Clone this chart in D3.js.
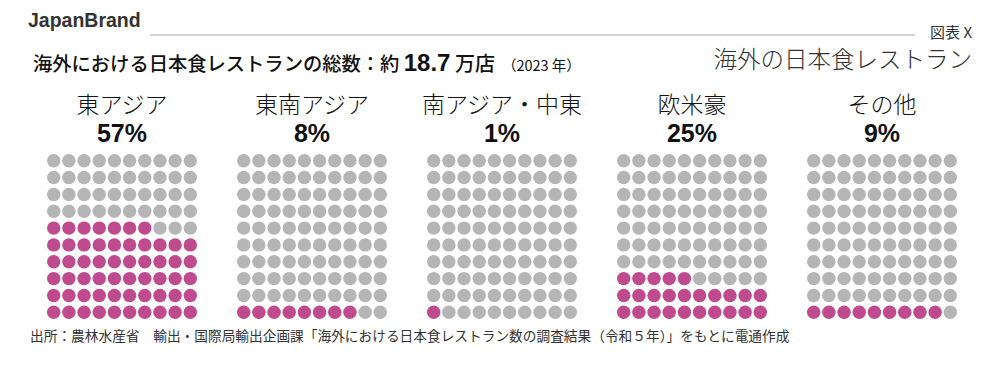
<!DOCTYPE html>
<html>
<head>
  <meta charset="utf-8">
  <style>
    body { margin: 0; background: #fff; }
    svg { display: block; }
    .jp { font-family: "Noto Sans CJK JP", "Noto Sans", sans-serif; }
    .num { font-family: "Liberation Sans", Arial, sans-serif; }
  </style>
  <script src="https://d3js.org/d3.v7.min.js"></script>
</head>
<body>
  <div id="chart"></div>
  <script>
    // 地域と割合（%）
    var regions = ["東アジア", "東南アジア", "南アジア・中東", "欧米豪", "その他"];
    var shares = [57, 8, 1, 25, 9];
    var pctLabels = ["57%", "8%", "1%", "25%", "9%"];

    var width = 1000, height = 376;
    var pink = "#c04a8e", grey = "#b5b5b5";

    var svg = d3.select("#chart").append("svg")
      .attr("width", width)
      .attr("height", height);

    // header
    svg.append("text")
      .attr("class", "num")
      .attr("x", 28).attr("y", 27)
      .attr("font-size", 19.5).attr("font-weight", "bold")
      .attr("fill", "#333")
      .text("JapanBrand");

    svg.append("line")
      .attr("x1", 150).attr("x2", 915)
      .attr("y1", 35).attr("y2", 35)
      .attr("stroke", "#c4c4c4").attr("stroke-width", 1.5);

    svg.append("text")
      .attr("class", "jp")
      .attr("x", 972).attr("y", 38)
      .attr("text-anchor", "end")
      .attr("font-size", 15).attr("fill", "#333")
      .text("図表 X");

    svg.append("text")
      .attr("class", "jp")
      .attr("x", 972).attr("y", 68)
      .attr("text-anchor", "end")
      .attr("font-size", 23.5).attr("font-weight", 300).attr("fill", "#333")
      .text("海外の日本食レストラン");

    var sub = svg.append("text")
      .attr("class", "jp")
      .attr("x", 33).attr("y", 71)
      .attr("fill", "#111");
    sub.append("tspan").attr("font-size", 19.3).attr("font-weight", 500)
      .text("海外における日本食レストランの総数：約 ");
    sub.append("tspan").attr("class", "num").attr("font-size", 24).attr("font-weight", "bold")
      .text("18.7");
    sub.append("tspan").attr("font-size", 20).attr("font-weight", 500)
      .text(" 万店");
    sub.append("tspan").attr("font-size", 14.5).attr("dx", 7)
      .text("（2023 年）");

    // groups
    var xGroup = d3.scaleBand()
      .domain(regions)
      .range([47, 47 + 190 * regions.length])
      .paddingInner(0);

    var r = 6.7;
    var col = d3.scaleLinear().domain([0, 9]).range([r, 150 - r]);
    var row = d3.scaleLinear().domain([0, 9]).range([319 - r, 154 + r]);

    var cells = d3.range(100);

    var groups = svg.selectAll(".group")
      .data(regions)
      .enter().append("g")
      .attr("class", "group")
      .attr("transform", function (d) { return "translate(" + xGroup(d) + ",0)"; });

    groups.append("text")
      .attr("class", "jp")
      .attr("x", 75).attr("y", 113)
      .attr("text-anchor", "middle")
      .attr("font-size", 23).attr("font-weight", 300).attr("fill", "#111")
      .text(function (d) { return d; });

    groups.append("text")
      .attr("class", "num")
      .attr("x", 75).attr("y", 142)
      .attr("text-anchor", "middle")
      .attr("font-size", 25).attr("font-weight", "bold").attr("fill", "#111")
      .text(function (d, i) { return pctLabels[i]; });

    groups.each(function (d, i) {
      d3.select(this).selectAll("circle")
        .data(cells)
        .enter().append("circle")
        .attr("cx", function (k) { return col(k % 10); })
        .attr("cy", function (k) { return row(Math.floor(k / 10)); })
        .attr("r", r)
        .attr("fill", function (k) { return k < shares[i] ? pink : grey; });
    });

    // footer
    svg.append("text")
      .attr("class", "jp")
      .attr("x", 30).attr("y", 341)
      .attr("font-size", 13.7).attr("fill", "#333")
      .text("出所：農林水産省　輸出・国際局輸出企画課「海外における日本食レストラン数の調査結果（令和５年）」をもとに電通作成");
  </script>
</body>
</html>
